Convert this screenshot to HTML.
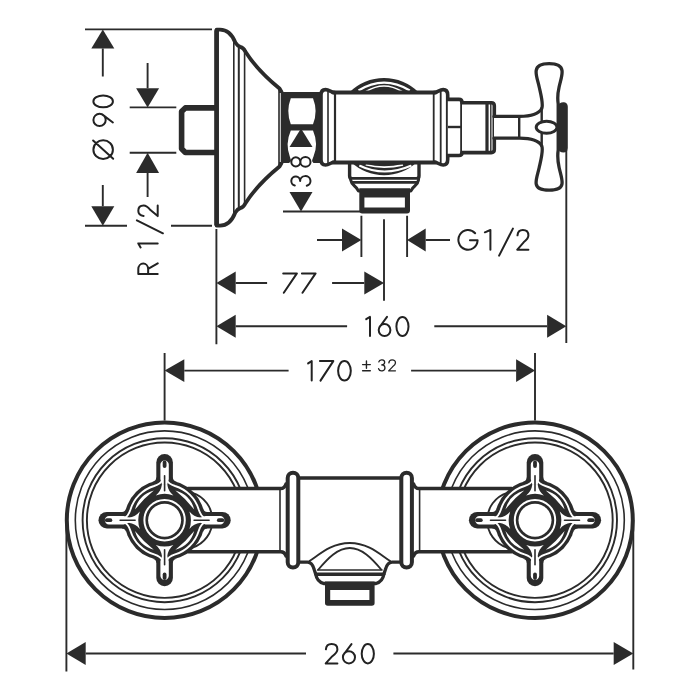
<!DOCTYPE html>
<html><head><meta charset="utf-8"><title>Exposed shower mixer - dimension drawing</title>
<style>
html,body{margin:0;padding:0;background:#fff;width:700px;height:700px;overflow:hidden}
svg{display:block;will-change:transform}
.o{stroke:#2b2b2b;fill:none;stroke-linejoin:round;stroke-linecap:round}
.ow{stroke:#2b2b2b;fill:#fff;stroke-linejoin:round;stroke-linecap:round}
.t{stroke:#2b2b2b;fill:none}
.d{stroke:#2b2b2b;fill:none}
.f{fill:#2b2b2b}
.w{fill:#fff}
.ws{stroke:#fff;fill:none}
.g{fill:none;stroke:#222;stroke-linecap:round;stroke-linejoin:round}
text{font-family:"Liberation Sans",sans-serif}
</style></head><body>
<svg width="700" height="700" viewBox="0 0 700 700" stroke-width="3.6">
<!-- ================= TOP VIEW ================= -->
<!-- dia 90 dimension -->
<g class="d" stroke-width="1.9">
<path d="M85 29.4H212M85 225.7H127M171 225.7H212"/>
<path d="M102.8 48.6V76.4M102.8 184.9V206.3"/>
<path d="M129.7 107.4H176.3M129.7 152.8H176.3"/>
<path d="M147.6 62.9V88.2M147.6 172.9V196.9"/>
</g>
<g class="f">
<path d="M102.8 29.4L91.3 48.6H114.3Z"/>
<path d="M102.8 225.7L91.3 206.3H114.3Z"/>
<path d="M147.6 107.4L136.1 88.2H159.1Z"/>
<path d="M147.6 152.8L136.1 172.9H159.1Z"/>
</g>

<!-- pipe stub -->
<path class="o" stroke-width="5.6" stroke-linejoin="miter" d="M216.5 107.9H185.3L181.6 111.6V148.8L185.3 152.5H216.5"/>

<!-- flange -->
<path class="ow" stroke-width="3.8" d="M216.6 225.6V29.6H220C227 29.6 232 34 235.3 42.5Q237.5 46 240.3 46.8Q243.5 47.6 245.3 51.5C251 60.5 263 75 279.5 88.5L281.5 92V163L279.5 166.5C263 180 251 194.5 245.3 203.5Q243.5 207.4 240.3 208.2Q237.5 209 235.3 212.5C232 221 227 225.6 220 225.6Z"/>
<path class="o" stroke-width="4.7" stroke-linecap="butt" d="M216.6 31V224.2"/>
<g class="t" stroke-width="1.6">
<path d="M233.8 39V216M244.6 50.5V204.5M279 88V167"/>
<path stroke-width="2" d="M238.8 45.5V209.5"/>
</g>

<!-- dark nut block -->
<path class="f" d="M279 92H322V163H313.5L311 160H292L289 163H279Z"/>
<path class="ws" stroke-width="0.9" d="M280.3 93V162"/>
<path class="w" d="M290.8 98.2H313Q318.2 111.2 313 124.2H290.8Q285.8 111.2 290.8 98.2Z"/>
<path class="w" d="M290.8 130.6H313Q318.8 144 313.5 156.5Q311.5 160 312 164H291Q291.5 160 289.8 156.5Q285 144 290.8 130.6Z"/>

<!-- 38 dimension -->
<g class="f">
<path d="M301 128.5L289.5 147H312.5Z"/>
<path d="M301 211.5L289.5 192H312.5Z"/>
</g>
<path class="d" stroke-width="1.9" d="M283 211.5H360"/>

<!-- top dome -->
<path class="f" d="M349.3 92.5A49 49 0 0 1 418.7 92.5Z"/>
<path class="ws" stroke-width="2.1" d="M358.5 90.5Q384 74.8 409.8 90.5"/>
<path class="ws" stroke-width="1.7" d="M366 91.5Q384 80.5 402 91.5"/>

<!-- bottom bracket + dome -->
<path class="ow" stroke-width="3.4" d="M349.6 160V176Q349.6 178.8 352.4 178.8H416.2Q419 178.8 419 176V160"/>
<path class="f" d="M351 162A47.8 47.8 0 0 0 417 162Z"/>
<path class="ws" stroke-width="2" d="M359.3 165.5Q384 177.5 411.4 165.5"/>
<path class="ws" stroke-width="1.7" d="M365.7 164.8Q384 169.5 403 164.8"/>
<path class="ow" stroke-width="3" d="M350.6 179.8Q351.3 183.5 354.5 186Q357 188 358.5 191H410.8Q412.3 188 414.8 186Q418 183.5 418.6 179.8"/>
<path class="o" stroke-width="2.6" d="M352 182.4H417"/>
<path class="f" d="M359.3 188.3H410V210.6Q410 213.6 407 213.6H362.3Q359.3 213.6 359.3 210.6Z"/>
<path class="w" d="M364.4 197.5H404.9V207.5H364.4Z"/>

<!-- body -->
<path class="ow" d="M335 92.6C331 92.6 329.5 89.6 325.5 89.6C322 89.6 321 92 321 95V159.6C321 162.4 322 165 325.5 165C329.5 165 331 162 335 162"/>
<path class="ow" d="M433.7 92.6C437.7 92.6 439.2 89.6 443.2 89.6C446.7 89.6 447.7 92 447.7 95V159.6C447.7 162.4 446.7 165 443.2 165C439.2 165 437.7 162 433.7 162"/>
<rect class="w" x="335" y="92.6" width="98.7" height="69.4"/>
<path class="o" stroke-width="4" d="M333 92.6H435.7M333 162.4H435.7"/>
<path class="t" stroke-width="1.6" d="M328 91V164"/>
<path class="t" stroke-width="2.2" d="M335 92V162.5"/>
<path class="t" stroke-width="1.8" d="M433.7 92V162.5M440.7 91V164"/>

<!-- right nuts -->
<path class="ow" d="M447.8 99.4H459Q462 99.4 462 102.4V152.5Q462 155.5 459 155.5H447.8"/>
<path class="t" stroke-width="2.4" d="M448 127H461"/>
<path class="ow" d="M462 102.8H491.3Q494.3 102.8 494.3 105.8V149.6Q494.3 152.6 491.3 152.6H462"/>
<path class="t" stroke-width="3.2" d="M487 103V152.5"/>
<path class="t" stroke-width="1.4" d="M490.8 103V152.5"/>

<!-- handle -->
<path class="ow" stroke-width="3.3" d="M494 116.4H519.6C530 116.4 538.5 114.5 541.8 108.5C543.5 104 541 95 539.2 87C537.8 80.5 535.5 75 536.2 70.5C537 65.5 542 63.7 549.1 63.7C556.2 63.7 561.2 65.5 562 70.5C562.7 75 560.5 80.5 559.1 87C557.7 93 557.3 98 558.2 104V150C557.3 156 557.7 161 559.1 167.5C560.5 174 562.7 179.5 562 184C561.2 189 556.2 190.2 549.1 190.2C542 190.2 537 189 536.2 184C535.5 179.5 537.8 174 539.2 167.5C541 159.5 543.5 150.5 541.8 146C538.5 140 530 138.2 519.6 138.2H494"/>
<path class="t" stroke-width="2.4" d="M519.2 116V139M541.7 107V147"/>
<ellipse class="ow" stroke-width="3" cx="546.6" cy="127.2" rx="10.4" ry="6"/>
<path class="f" d="M558 106C558.6 103 561.5 101.8 564.2 102.2C566.6 102.6 567.8 104.5 567.8 107V148C567.8 151 566.2 152.6 563.4 152.6C560.6 152.6 558.6 151 558 148Z"/>

<!-- G1/2, 77, 160 dims -->
<g class="d" stroke-width="1.9">
<path d="M361.4 215.7V257.1M407.1 215.7V257.1M384 219.3V300.7"/>
<path d="M317 240H342M425.7 240H450"/>
<path d="M216.4 229V344.3M566.3 150V343"/>
<path d="M235.7 283H267.1M332.1 283H364.3"/>
<path d="M235.7 326.2H347.1M434.3 326.2H547.1"/>
</g>
<g class="f">
<path d="M361.4 240L342 228.5V251.5Z"/>
<path d="M407.1 240L425.7 228.5V251.5Z"/>
<path d="M216.4 283L235.7 271.5V294.5Z"/>
<path d="M384 283L364.3 271.5V294.5Z"/>
<path d="M216.4 326.2L235.7 314.7V337.7Z"/>
<path d="M566.3 326.2L547.1 314.7V337.7Z"/>
</g>

<!-- ================= BOTTOM VIEW ================= -->
<g class="d" stroke-width="1.9">
<path d="M164.6 352.9V420.5M535 352.9V420.5"/>
<path d="M184.3 370.6H288.6M411.1 370.6H516.1"/>
<path d="M66.4 520V671.4M633.3 520V669.4"/>
<path d="M85.7 653.5H306M393.4 653.5H613.7"/>
</g>
<g class="f">
<path d="M164.6 370.6L184.3 359.2V382.1Z"/>
<path d="M535 370.6L516.1 359.2V382.1Z"/>
<path d="M66.4 653.5L85.7 642.1V665Z"/>
<path d="M633.3 653.5L613.7 642.1V665Z"/>
</g>

<!-- circles -->
<g id="circ">
<circle class="o" stroke-width="4" cx="164.6" cy="520.2" r="97.8"/>
<circle class="t" stroke-width="1.6" cx="164.6" cy="520.2" r="89.3"/>
<circle class="t" stroke-width="1.9" cx="164.6" cy="520.2" r="82"/>
<circle class="t" stroke-width="1.9" cx="164.6" cy="520.2" r="77.7"/>
</g>
<use href="#circ" transform="translate(699.6 0) scale(-1 1)"/>

<!-- pipes -->
<g id="pipeL">
<rect class="w" x="188" y="488.6" width="98" height="63.2"/>
<path class="o" stroke-width="3.5" d="M188 488.6H280.6Q284.5 488.6 286 484M188 551.8H280.6Q284.5 551.8 286 556"/>
<path class="t" stroke-width="1.6" d="M280 489.5V551"/>
<path class="t" stroke-width="1.9" d="M192.5 492.8A28.8 28.8 0 0 1 192.5 547.6"/>
</g>
<use href="#pipeL" transform="translate(699.6 0) scale(-1 1)"/>

<!-- central body -->
<rect class="w" x="298" y="478" width="103" height="84"/>
<path class="o" stroke-width="3.5" d="M298 478H401.5"/>
<!-- outlet -->
<path class="ow" stroke-width="3.3" d="M298 562.1H307.5C311.5 562.1 313 565 314.2 569.5L315.8 574.5Q317 581.5 323.5 583.5H376.1Q382.6 581.5 383.8 574.5L385.4 569.5C386.6 565 388.1 562.1 392.1 562.1H401.5"/>
<path class="t" stroke-width="1.9" d="M309 561.3C318 556 330 543 349.8 543C369.6 543 381.6 556 390.6 561.3"/>
<path class="t" stroke-width="1.9" d="M318 570C328 558 338 548 349.8 548C361.6 548 371.6 558 381.6 570"/>
<path class="t" stroke-width="1.6" d="M317 570H382.6"/>
<path class="o" stroke-width="3.6" d="M316 574.3H383.6"/>
<path class="f" d="M325 581.4H374.6V603Q374.6 605.8 371.8 605.8H327.8Q325 605.8 325 603Z"/>
<path class="w" d="M330.2 590H369.4V600H330.2Z"/>

<!-- pills -->
<rect class="ow" stroke-width="4" x="287.7" y="472.7" width="10.6" height="94.9" rx="5.3"/>
<rect class="ow" stroke-width="4" x="401.3" y="472.7" width="10.6" height="94.9" rx="5.3"/>

<!-- knobs -->
<g id="knob" transform="translate(164.6 520.2)">
<circle class="f" r="40.2"/>
<g id="arm">
<path class="f" d="M-8.3 -37V-57.8A8.3 8.3 0 0 1 8.3 -57.8V-37Z"/>
<path class="f" d="M-12.4 -38.3Q-8.3 -39.3 -8.3 -42.6H8.3Q8.3 -39.3 12.4 -38.3Z"/>
<path class="w" d="M-4.2 -41V-55.6A4.2 4.2 0 0 1 4.2 -55.6V-41Q3.2 -38 2.6 -35.5H-2.6Q-3.2 -38 -4.2 -41Z"/>
<path class="w" d="M-8.8 -24.8Q-3.6 -29 -2.6 -36H2.6Q3.6 -29 8.8 -24.8A26.3 26.3 0 0 0 -8.8 -24.8Z"/>
<path class="o" stroke-width="3.8" d="M0 -57.8V-54.2"/>
<path class="o" stroke-width="1.6" d="M0 -29.5V-44.5"/>
</g>
<use href="#arm" transform="rotate(90)"/>
<use href="#arm" transform="rotate(180)"/>
<use href="#arm" transform="rotate(270)"/>
<g id="crs">
<path class="ws" stroke-width="1.9" stroke-linecap="round" d="M-2.2 -40.5Q-3.5 -36.5 -10.5 -34.2A35.6 35.6 0 0 0 -34.2 -10.5Q-36.5 -3.5 -40.5 -2.2"/>
<path class="w" d="M-29.6 -10.8Q-25.5 -25.5 -10.8 -29.6Q-21.3 -21.3 -29.6 -10.8Z"/>
</g>
<use href="#crs" transform="rotate(90)"/>
<use href="#crs" transform="rotate(180)"/>
<use href="#crs" transform="rotate(270)"/>
<circle class="ws" stroke-width="2" r="20.2"/>
<circle class="w" r="16.5"/>
</g>
<use href="#knob" transform="translate(699.6 0) scale(-1 1)"/>
<!-- labels -->
<path class="g" stroke-width="2" d="M308.1 363.4L311.7 361.1V380.6M319.9 361.1H333.3L320.5 380.6M338.1 370.85A6.35 9.75 0 1 0 350.8 370.85A6.35 9.75 0 1 0 338.1 370.85"><title>170</title></path>
<path class="g" stroke-width="2" d="M325.9 649.35C326.2 645.69 328.4 644.1 331.55 644.1C335.11 644.1 337.4 646.08 337.4 649.45C337.4 652.22 334.84 654.3 332.37 656.19L325.7 663.4H337.4M342.9 657.31A6.05 6.09 0 1 0 355 657.31A6.05 6.09 0 1 0 342.9 657.31M343.47 654.73L351.49 644.1M361.7 653.75A6.1 9.65 0 1 0 373.9 653.75A6.1 9.65 0 1 0 361.7 653.75"><title>260</title></path>
<path class="g" stroke-width="2" d="M366.2 319.17L370 316.9V336.1M378.7 330.04A5.85 6.06 0 1 0 390.4 330.04A5.85 6.06 0 1 0 378.7 330.04M379.25 327.47L387.02 316.9M396.4 326.5A6.05 9.6 0 1 0 408.5 326.5A6.05 9.6 0 1 0 396.4 326.5"><title>160</title></path>
<path class="g" stroke-width="2" d="M283.2 273.4H296.9L283.8 292.8M301.9 273.4H315.6L302.5 292.8"><title>77</title></path>
<path class="g" stroke-width="2" d="M475.13 233.26A9.6 9.85 0 1 0 477.6 240.35M477.6 240.35H469.92M484.9 232.32L490.4 230V249.7M517.5 235.35C517.8 231.61 519.84 230 522.85 230C526.26 230 528.4 232.02 528.4 235.45C528.4 238.28 525.99 240.4 523.64 242.31L517.3 249.7H528.4M499.1 255.6L512.9 228.6"><title>G1/2</title></path>
<path class="g" stroke-width="2" transform="translate(113.9 160) rotate(-90)" d="M1 -10.75A9.35 9.75 0 1 0 19.7 -10.75A9.35 9.75 0 1 0 1 -10.75M1.2 -0.7L19.5 -20.8M33.9 -14.35A6.15 6.15 0 1 0 46.2 -14.35A6.15 6.15 0 1 0 33.9 -14.35M45.62 -11.75L37.48 -1M52.7 -10.75A5.9 9.75 0 1 0 64.5 -10.75A5.9 9.75 0 1 0 52.7 -10.75"><title>Ø 90</title></path>
<path class="g" stroke-width="2" transform="translate(158.7 274.9) rotate(-90)" d="M1 -1V-20.4H5.92A5.68 4.93 0 0 1 5.92 -10.55H1M5.92 -10.55L11.6 -1M27.5 -18.11L31.5 -20.4V-1M59 -15.12C59.3 -18.81 61.17 -20.4 64.05 -20.4C67.3 -20.4 69.3 -18.41 69.3 -15.03C69.3 -12.24 67.05 -10.15 64.8 -8.26L58.8 -1H69.3M41.6 4.2L54.5 -21.8"><title>R 1/2</title></path>
<path class="g" stroke-width="2" transform="translate(311.5 187) rotate(-90)" d="M1.4 -16.69A4.65 4.43 0 1 1 5.95 -11.35A4.95 5.17 0 1 1 1.19 -4.75M20.5 -15.67A4.6 4.53 0 1 0 29.7 -15.67A4.6 4.53 0 1 0 20.5 -15.67M20.3 -6.07A4.8 5.07 0 1 0 29.9 -6.07A4.8 5.07 0 1 0 20.3 -6.07"><title>38</title></path>
<path class="g" stroke-width="1.3" d="M378.81 361.86A2.95 2.54 0 1 1 381.7 364.92A3.25 2.96 0 1 1 378.58 368.7M388.85 362.88C389.15 360.77 390.19 359.85 392.05 359.85C394.16 359.85 395.45 360.99 395.45 362.94C395.45 364.54 393.99 365.74 392.54 366.83L388.65 370.85H395.45"><title>32</title></path>
<path class="g" stroke-width="1.4" d="M362.6 364.6H370.3M366.45 360.9V368.3M362.6 370.7H370.3"><title>±</title></path>
</svg>
</body></html>
